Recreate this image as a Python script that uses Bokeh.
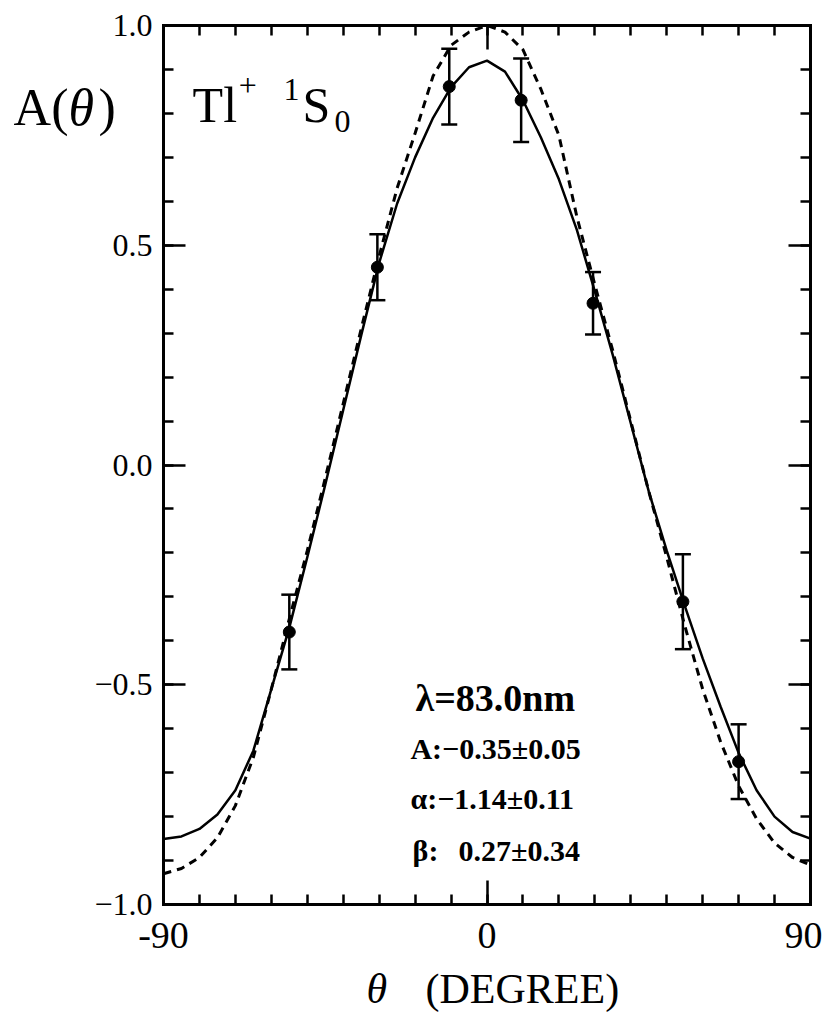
from bokeh.plotting import figure
from bokeh.models import (Range1d, LinearAxis, FixedTicker, CustomJSTickFormatter,
                          Whisker, TeeHead, ColumnDataSource, Label)
from bokeh.embed import file_html
from bokeh.resources import INLINE

# ---------------- data ----------------
theta_grid = [-90, -85, -80, -75, -70, -65, -60, -55, -50, -45, -40, -35, -30, -25,
              -20, -15, -10, -5, 0, 5, 10, 15, 20, 25, 30, 35, 40, 45, 50, 55, 60,
              65, 70, 75, 80, 85, 90]
solid_fit = [-0.851, -0.845, -0.828, -0.795, -0.74, -0.65, -0.51, -0.37, -0.21, -0.045,
             0.125, 0.295, 0.46, 0.595, 0.70, 0.79, 0.86, 0.905, 0.92, 0.895, 0.83,
             0.745, 0.65, 0.535, 0.395, 0.25, 0.095, -0.06, -0.195, -0.32, -0.44,
             -0.55, -0.655, -0.74, -0.80, -0.835, -0.85]
dashed_fit = [-0.93, -0.918, -0.893, -0.848, -0.775, -0.665, -0.51, -0.35, -0.195, -0.03,
              0.14, 0.31, 0.475, 0.63, 0.755, 0.885, 0.955, 0.985, 1.0, 0.985, 0.945,
              0.855, 0.75, 0.565, 0.41, 0.26, 0.10, -0.06, -0.21, -0.365, -0.51,
              -0.63, -0.73, -0.805, -0.86, -0.893, -0.91]

theta_data = [-55, -30.5, -10.5, 9.5, 29.5, 54.5, 70]
A_data = [-0.38, 0.45, 0.861, 0.83, 0.368, -0.311, -0.675]
A_err = [0.085, 0.075, 0.086, 0.095, 0.071, 0.108, 0.085]

x_major_ticks = [-90, 0, 90]
x_tick_labels = ["-90", "0", "90"]
x_minor_ticks = [-90, -80, -70, -60, -50, -40, -30, -20, -10, 0,
                 10, 20, 30, 40, 50, 60, 70, 80, 90]
y_major_ticks = [-1.0, -0.5, 0.0, 0.5, 1.0]
y_tick_labels = ["\u22121.0", "\u22120.5", "0.0", "0.5", "1.0"]
y_minor_ticks = [-1.0, -0.9, -0.8, -0.7, -0.6, -0.5, -0.4, -0.3, -0.2, -0.1, 0.0,
                 0.1, 0.2, 0.3, 0.4, 0.5, 0.6, 0.7, 0.8, 0.9, 1.0]

fit_lines = ["\u03bb=83.0nm", "A:\u22120.35\u00b10.05", "\u03b1:\u22121.14\u00b10.11",
             "\u03b2:", "0.27\u00b10.34"]

SERIF = "Liberation Serif"

# ---------------- figure ----------------
# The frame covers the whole canvas; the box axes are pinned at the data limits
W, H = 822, 1012
p = figure(width=W, height=H, output_backend="svg", toolbar_location=None,
           x_range=Range1d(-135.35, 93.34), y_range=Range1d(-1.2457, 1.0569),
           min_border=0, min_border_left=0, min_border_right=0, min_border_top=0,
           min_border_bottom=0, x_axis_location=None, y_axis_location=None)
p.grid.visible = False
p.outline_line_color = None
p.background_fill_color = "white"
p.border_fill_color = "white"

xt = FixedTicker(ticks=x_major_ticks, minor_ticks=x_minor_ticks)
yt = FixedTicker(ticks=y_major_ticks, minor_ticks=y_minor_ticks)


def style(ax, major_len):
    ax.axis_line_width = 3
    ax.axis_line_color = "black"
    ax.axis_line_cap = "square"
    ax.major_tick_in = major_len
    ax.major_tick_out = 0
    ax.minor_tick_in = 10
    ax.minor_tick_out = 0
    ax.major_tick_line_width = 2.5
    ax.minor_tick_line_width = 2.5
    ax.major_tick_line_color = "black"
    ax.minor_tick_line_color = "black"


bottom = LinearAxis(ticker=xt, fixed_location=-1.0, bounds=(-90, 90),
                    major_label_overrides=dict(zip(x_major_ticks, x_tick_labels)))
style(bottom, 24)
bottom.major_label_text_font = SERIF
bottom.major_label_text_font_size = "38px"
bottom.major_label_text_color = "black"
bottom.major_label_standoff = 18
p.add_layout(bottom, "below")

top = LinearAxis(ticker=xt, fixed_location=1.0, bounds=(-90, 90),
                 formatter=CustomJSTickFormatter(code="return '';"))
style(top, 24)
top.major_label_standoff = 0
p.add_layout(top, "above")

left = LinearAxis(ticker=yt, fixed_location=-90, bounds=(-1.0, 1.0),
                  major_label_overrides=dict(zip(y_major_ticks, y_tick_labels)))
style(left, 22)
left.major_label_text_font = SERIF
left.major_label_text_font_size = "32px"
left.major_label_text_color = "black"
left.major_label_standoff = 11
p.add_layout(left, "left")

right = LinearAxis(ticker=yt, fixed_location=90, bounds=(-1.0, 1.0),
                   formatter=CustomJSTickFormatter(code="return '';"))
style(right, 22)
right.major_label_standoff = 0
p.add_layout(right, "right")

# ---------------- curves ----------------
p.line(theta_grid, dashed_fit, line_color="black", line_width=3, line_dash="8 6")
p.line(theta_grid, solid_fit, line_color="black", line_width=2.5)

# ---------------- data points ----------------
upper = [a + e for a, e in zip(A_data, A_err)]
lower = [a - e for a, e in zip(A_data, A_err)]
src = ColumnDataSource(data=dict(x=theta_data, y=A_data, upper=upper, lower=lower))
w = Whisker(source=src, base="x", upper="upper", lower="lower", line_width=2.5,
            line_color="black",
            upper_head=TeeHead(size=16, line_width=2.5, line_color="black"),
            lower_head=TeeHead(size=16, line_width=2.5, line_color="black"))
p.add_layout(w)
p.scatter("x", "y", source=src, size=12, marker="circle", fill_color="black",
          line_color="black")


# ---------------- texts ----------------
def lab(x, y, text, size, style="normal"):
    p.add_layout(Label(x=x, y=y, text=text, text_font=SERIF, text_font_size=size,
                       text_font_style=style, text_color="black",
                       text_align="left", text_baseline="middle"))


# y axis title A(theta)
lab(-131.7, 0.8127, "A(", "52px")
lab(-116.4, 0.8127, "\u03b8", "52px", "italic")
lab(-108.1, 0.8127, ")", "52px")

# species label Tl+ 1S0
lab(-81.9, 0.818, "Tl", "50px")
lab(-69.1, 0.863, "+", "32px")
lab(-56.6, 0.854, "1", "32px")
lab(-51.3, 0.818, "S", "50px")
lab(-42.4, 0.781, "0", "32px")

# fit parameters
lab(-19.9, -0.5293, fit_lines[0], "38px", "bold")
lab(-21.3, -0.6446, fit_lines[1], "30px", "bold")
lab(-21.3, -0.7584, fit_lines[2], "30px", "bold")
lab(-20.7, -0.8767, fit_lines[3], "30px", "bold")
lab(-7.9, -0.8767, fit_lines[4], "30px", "bold")

# x axis title
lab(-33.5, -1.1928, "\u03b8", "42px", "italic")
lab(-17.1, -1.1928, "(DEGREE)", "42px")

open("out.html", "w").write(file_html(p, INLINE))
